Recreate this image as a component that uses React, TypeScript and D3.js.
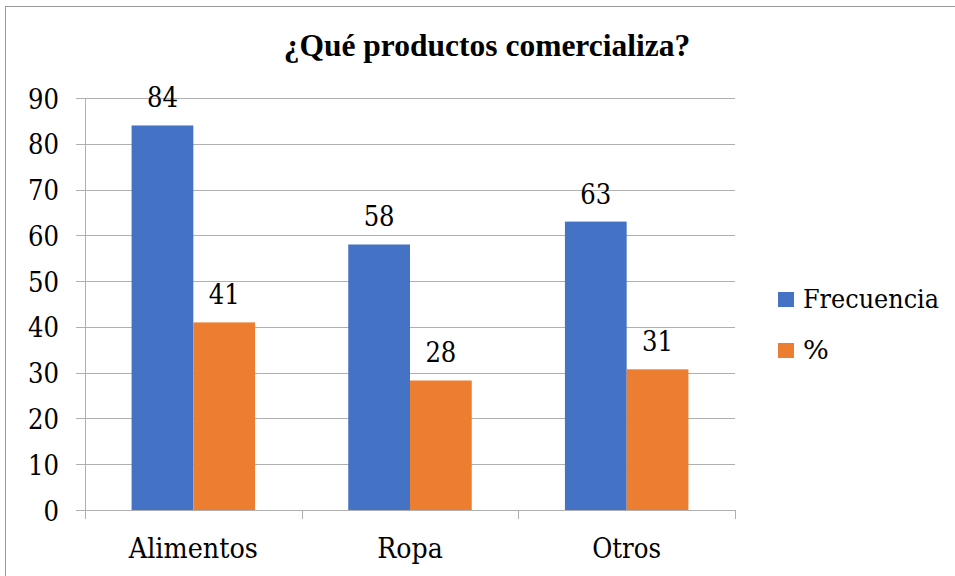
import React from "react";
import * as d3 from "d3";

const categories = ["Alimentos", "Ropa", "Otros"];
const frecuencia = [84, 58, 63];
const porcentaje = [40.98, 28.29, 30.73];
const seriesNames = ["Frecuencia", "%"];
const yTicks = [0, 10, 20, 30, 40, 50, 60, 70, 80, 90];
const title = "¿Qué productos comercializa?";

const COLORS = ["#4472C4", "#ED7D31"];
const TITLE_FONT = "Liberation Serif, DejaVu Serif, serif";
const FONT = "DejaVu Serif, serif";
const FS = 31;

// Times-like advance widths (em) used to size text to the reference's serif face
const TW: Record<string, number> = {
  "0": 0.5, "1": 0.5, "2": 0.5, "3": 0.5, "4": 0.5, "5": 0.5, "6": 0.5, "7": 0.5, "8": 0.5, "9": 0.5,
  A: 0.722, l: 0.278, i: 0.278, m: 0.778, e: 0.444, n: 0.5, t: 0.278, o: 0.5, s: 0.389,
  R: 0.667, p: 0.5, a: 0.444, O: 0.722, r: 0.333, F: 0.556, c: 0.444, u: 0.5, "%": 0.833,
};
const tlen = (s: string) => s.split("").reduce((acc, ch) => acc + (TW[ch] ?? 0.5), 0) * FS;

function T(props: { x: number; y: number; s: string; anchor?: string; size?: number }) {
  return (
    <text
      x={props.x}
      y={props.y}
      textAnchor={props.anchor ?? "start"}
      textLength={tlen(props.s)}
      lengthAdjust="spacingAndGlyphs"
      style={{ fontFamily: FONT, fontSize: `${props.size ?? 28}px` }}
      fill="#000"
    >
      {props.s}
    </text>
  );
}

export default function App() {
  const W = 955, H = 576;
  const left = 85, right = 735, top = 98, bottom = 510;
  const x = d3.scaleBand<string>().domain(categories).range([left, right]);
  const y = d3.scaleLinear().domain([0, 90]).range([bottom, top]);
  const barW = x.bandwidth() * 0.285;
  const series = [frecuencia, porcentaje];

  return (
    <svg width={W} height={H} style={{ position: "absolute", left: 0, top: 0, background: "#fff" }}>
      <rect x={5.5} y={6.5} width={1000} height={700} fill="#fff" stroke="#9a9a9a" strokeWidth={1} />
      <text x={487} y={56} textAnchor="middle" style={{ fontFamily: TITLE_FONT, fontSize: "31.5px", fontWeight: 700 }} fill="#000">{title}</text>
      {yTicks.map((t) => (
        <g key={t}>
          <line x1={left - 9} x2={right} y1={Math.round(y(t)) + 0.5} y2={Math.round(y(t)) + 0.5} stroke="#b0b0b0" strokeWidth={1} />
          <T x={59} y={y(t) + 10.5} s={String(t)} anchor="end" />
        </g>
      ))}
      <line x1={left + 0.5} x2={left + 0.5} y1={top} y2={bottom + 9} stroke="#b0b0b0" strokeWidth={1} />
      {categories.map((c) => (
        <line key={"tk" + c} x1={Math.round(x(c)! + x.bandwidth()) + 0.5} x2={Math.round(x(c)! + x.bandwidth()) + 0.5} y1={bottom} y2={bottom + 9} stroke="#b0b0b0" strokeWidth={1} />
      ))}
      {categories.map((c, i) => {
        const cx = x(c)! + x.bandwidth() / 2;
        return (
          <g key={c}>
            {series.map((s, k) => {
              const bx = cx - barW + k * barW;
              return (
                <g key={k}>
                  <rect x={bx} y={y(s[i])} width={barW} height={bottom - y(s[i])} fill={COLORS[k]} />
                  <T x={bx + barW / 2} y={y(s[i]) - 18} s={String(Math.round(s[i]))} anchor="middle" />
                </g>
              );
            })}
            <T x={cx} y={558} s={c} anchor="middle" />
          </g>
        );
      })}
      {seriesNames.map((n, k) => (
        <g key={n}>
          <rect x={778} y={292 + k * 51} width={16} height={15} fill={COLORS[k]} />
          <T x={803} y={308 + k * 51} s={n} size={26.5} />
        </g>
      ))}
    </svg>
  );
}
